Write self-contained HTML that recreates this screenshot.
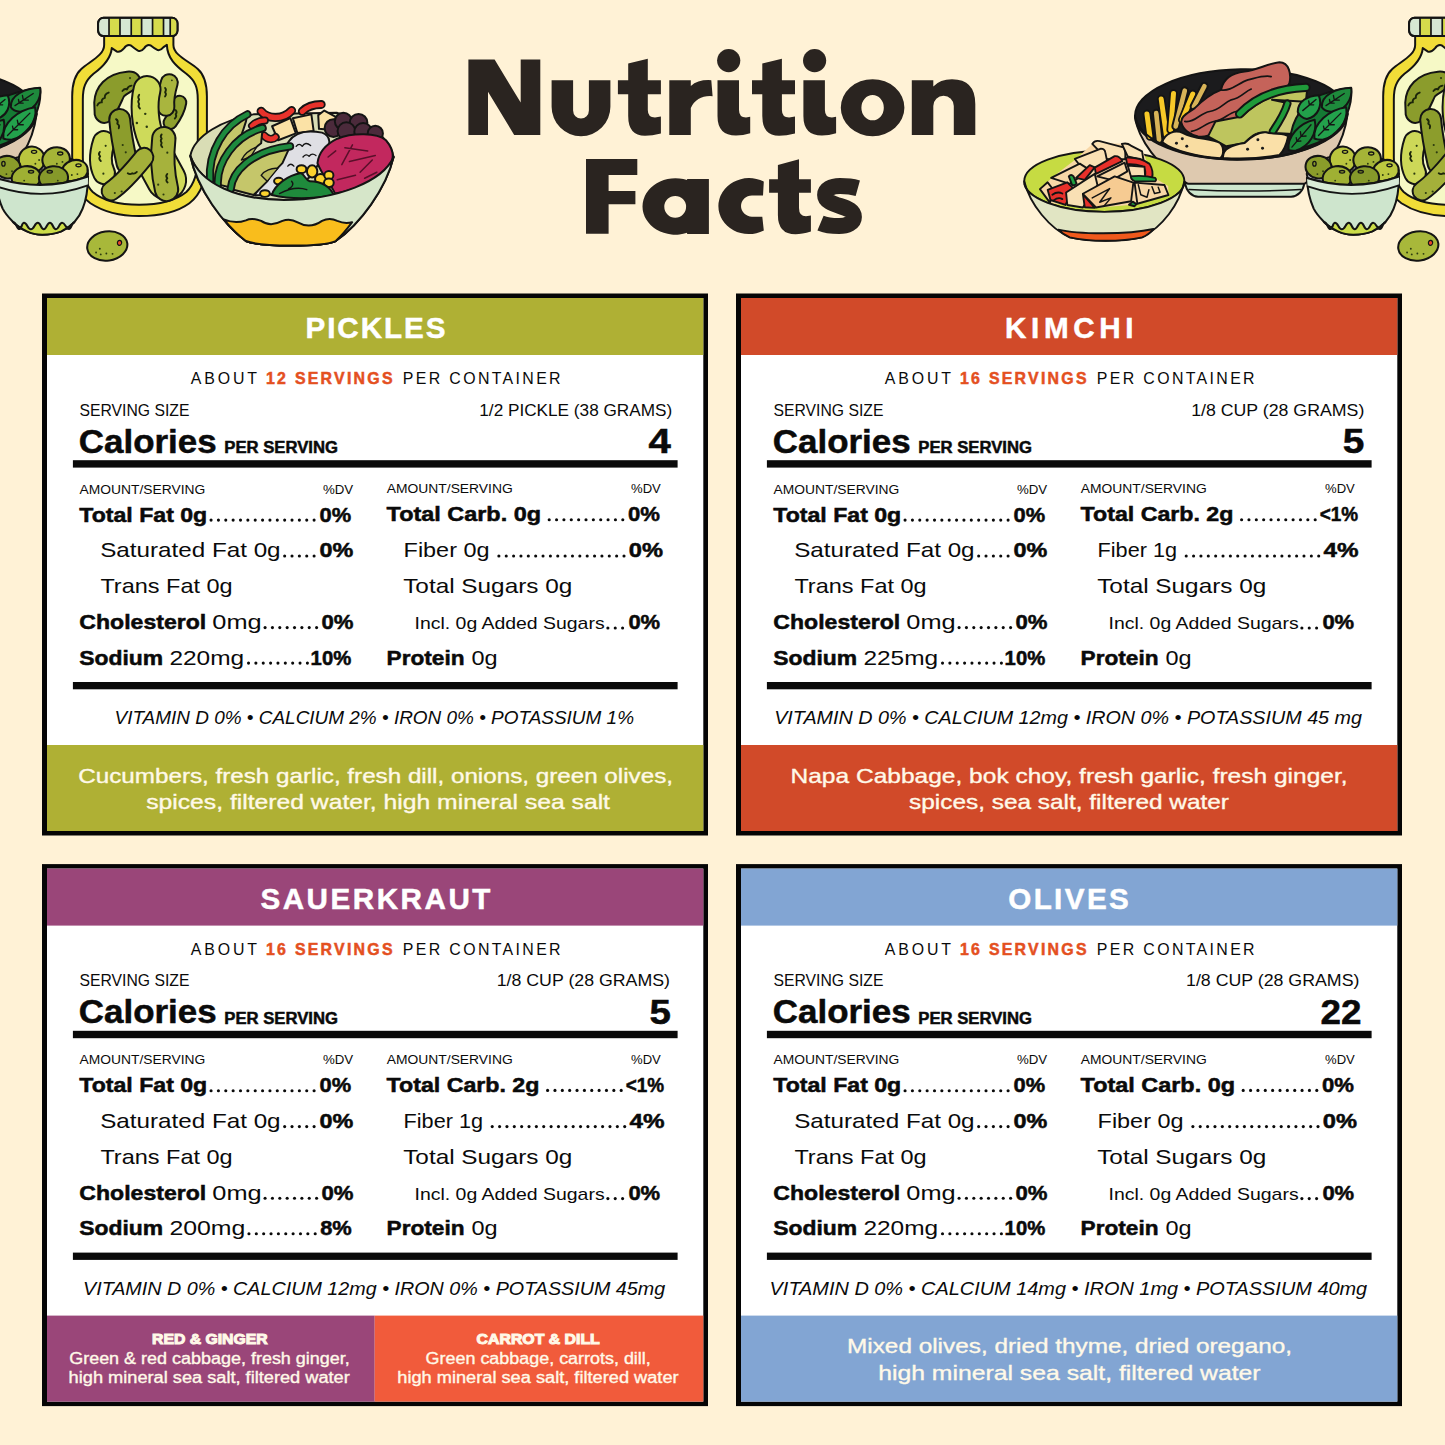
<!DOCTYPE html>
<html lang="en"><head><meta charset="utf-8"><title>Nutrition Facts</title>
<style>
html,body{margin:0;padding:0;background:#FFF2D6;}
body{width:1445px;height:1445px;overflow:hidden;font-family:"Liberation Sans", sans-serif;}
svg{display:block;font-family:"Liberation Sans", sans-serif;}
text{white-space:pre;}
</style></head><body>
<svg width="1445" height="1445" viewBox="0 0 1445 1445">
<rect width="1445" height="1445" fill="#FFF2D6"/>
<!-- illustrations -->
<defs><g id="grpA">
<!-- BLACK BOWL: zoom coords origin (1125,50)-1311 => (-186,50), scale 1/6.021 -->
<g transform="translate(-186,50) scale(0.16609)" stroke="#141414" stroke-width="12" stroke-linejoin="round" stroke-linecap="round">
<!-- foot -->
<path d="M362 800 L1080 800 C1074 850 1040 880 1000 884 L440 884 C400 880 368 850 362 800 Z" fill="#CEE7CE"/>
<path d="M385 840 C600 852 850 852 1058 840" fill="none" stroke-width="9"/>
<!-- body -->
<path d="M62 405 C75 520 200 720 380 806 L1080 806 C1220 720 1320 560 1340 385 Z" fill="#DEC9AF"/>
<!-- inner -->
<ellipse cx="700" cy="388" rx="640" ry="272" fill="#1B1B1D" transform="rotate(-1 700 388)"/>
<!-- fries -->
<g fill="none">
<path d="M150 520 L132 385" stroke-width="52"/><path d="M150 520 L132 385" stroke="#F7C928" stroke-width="30"/>
<path d="M205 540 L188 380" stroke-width="52"/><path d="M205 540 L188 380" stroke="#D8B458" stroke-width="28"/>
<path d="M250 520 L218 295" stroke-width="52"/><path d="M250 520 L218 295" stroke="#F7C928" stroke-width="30"/>
<path d="M275 480 L292 262" stroke-width="52"/><path d="M275 480 L292 262" stroke="#F7C928" stroke-width="30"/>
<path d="M305 460 L360 245" stroke-width="52"/><path d="M305 460 L360 245" stroke="#D8B458" stroke-width="28"/>
<path d="M345 420 L408 265" stroke-width="52"/><path d="M345 420 L408 265" stroke="#F7C928" stroke-width="30"/>
<path d="M415 340 L478 218" stroke-width="52"/><path d="M415 340 L478 218" stroke="#D8B458" stroke-width="28"/>
</g>
<!-- meat -->
<path d="M340 440 C330 400 380 380 420 350 C470 300 520 262 578 240 C590 180 640 140 720 130 C800 120 860 80 930 74 C990 74 1002 150 990 200 C960 262 900 282 860 300 C800 340 700 400 640 440 C580 490 500 530 440 520 C390 510 350 480 340 440 Z" fill="#C5635A"/>
<g fill="none" stroke-width="10"><path d="M578 240 C640 250 680 200 740 180 C800 165 840 150 880 160"/><path d="M360 430 C420 440 450 380 510 370 C570 365 590 320 640 300 C700 290 720 250 760 235"/><path d="M400 490 C460 480 480 440 540 430 C600 420 620 380 670 370"/></g>
<!-- avocado -->
<path d="M500 520 L545 430 L700 400 C780 330 880 262 1000 250 L1096 244 L1090 300 L1062 312 L1040 400 L1010 505 L870 505 C800 480 760 520 720 560 L610 580 Z" fill="#BEC55E"/>
<path d="M885 300 L1062 310 L1040 400 L1010 505 L900 500 C940 440 970 380 985 320 Z" fill="#CDCB78"/>
<g fill="none"><path d="M690 385 C780 290 900 232 1090 225" stroke-width="56"/><path d="M690 385 C780 290 900 232 1090 225" stroke="#1F9A3A" stroke-width="32"/>
<path d="M890 490 C930 430 962 380 978 322" stroke-width="50"/><path d="M890 490 C930 430 962 380 978 322" stroke="#1F9A3A" stroke-width="26"/></g>
<!-- leaves -->
<path d="M1000 590 C980 480 1040 330 1180 270 C1260 240 1340 230 1362 232 C1370 330 1330 460 1200 540 C1120 580 1060 600 1000 590 Z" fill="#157A34"/>
<path d="M1185 345 C1180 270 1270 230 1362 228 C1372 300 1320 372 1240 372 C1215 370 1195 360 1185 345 Z" fill="#1E8A3C"/>
<path d="M1040 372 C1040 310 1100 275 1166 272 C1190 330 1165 400 1095 415 C1070 410 1050 395 1040 372 Z" fill="#22A04A"/>
<path d="M1140 532 C1130 440 1230 360 1332 345 C1345 430 1280 520 1190 540 C1170 540 1150 538 1140 532 Z" fill="#23A24C"/>
<path d="M985 602 C975 520 1050 440 1142 420 C1160 500 1110 580 1030 605 C1010 608 995 606 985 602 Z" fill="#1C8A3A"/>
<g fill="none" stroke-width="8"><path d="M1210 335 L1320 262 M1260 300 l-5 -26 M1262 300 l28 2 M1235 318 l-4 -20 M1237 318 l22 2"/><path d="M1070 365 L1150 298 M1110 330 l-4 -24 M1112 330 l24 0"/><path d="M1165 515 L1300 380 M1230 450 l-6 -28 M1232 450 l28 0 M1200 480 l-5 -22 M1202 480 l24 0"/><path d="M1005 585 L1120 450 M1060 520 l-4 -28 M1062 520 l28 -2 M1035 550 l-4 -22 M1037 550 l22 -2"/></g>
<!-- potatoes -->
<path d="M225 555 C240 500 300 478 350 500 C420 540 520 530 572 560 C602 590 592 640 572 652 C450 642 300 612 225 555 Z" fill="#F9DDA2"/>
<path d="M590 645 C588 590 650 570 720 560 C760 520 800 490 850 495 C900 510 960 500 982 520 C972 570 950 612 930 632 C820 652 700 658 590 650 Z" fill="#FAE0A8"/>
<g stroke="none" fill="#1a1a1a"><circle cx="345" cy="535" r="9"/><circle cx="310" cy="562" r="9"/><circle cx="372" cy="580" r="9"/><circle cx="800" cy="540" r="9"/><circle cx="738" cy="598" r="9"/><circle cx="828" cy="592" r="9"/></g>
<!-- front rim re-stroke -->
<path d="M62 405 C100 560 380 662 700 660 C1020 660 1300 545 1340 385" fill="none"/>
</g>

<!-- JAR: traced in zoom coords (origin 60,5 scale 1/6.569) -->
<g transform="translate(60,5) scale(0.15223)" stroke="#141414" stroke-width="13" stroke-linejoin="round" stroke-linecap="round">
<path d="M290 200 L290 262 C290 330 200 368 140 420 C92 462 80 520 80 600 L80 1000 C80 1150 125 1250 200 1302 C300 1368 420 1386 520 1386 C640 1386 760 1368 850 1302 C925 1245 965 1150 965 1000 L965 600 C965 520 953 462 905 420 C845 368 745 330 745 262 L745 200 Z" fill="#F1DD38"/>
<path d="M340 283 L372 305 Q398 312 420 285 Q440 256 466 266 Q490 286 512 300 Q532 310 552 285 Q572 256 596 266 Q620 286 642 296 Q662 300 680 277 L702 262 C705 350 760 400 830 452 C890 500 905 540 905 620 L905 1000 C905 1100 880 1180 830 1228 C750 1292 640 1312 520 1312 C400 1312 290 1292 215 1228 C165 1180 150 1100 150 1000 L150 620 C150 540 165 500 220 452 C290 400 335 350 340 283 Z" fill="#F6F9C6"/>
<!-- lid -->
<rect x="250" y="84" width="522" height="120" rx="36" fill="#D6E7D2"/>
<g stroke="none" fill="#D6DB4C"><rect x="322" y="88" width="72" height="112"/><rect x="468" y="88" width="68" height="112"/><rect x="608" y="88" width="72" height="112"/><path d="M724 88 H746 Q766 94 766 122 V166 Q766 194 746 200 H724 Z"/></g>
<g fill="none" stroke-width="11"><path d="M322 86V202M394 86V202M468 86V202M536 86V202M608 86V202M680 86V202M724 86V202"/></g>
<rect x="250" y="84" width="522" height="120" rx="36" fill="none"/>
<!-- pickles: black underlay then colour -->
<g fill="none">
<path d="M640 1040 L700 1150" stroke-width="270"/><path d="M640 1040 L700 1150" stroke="#CFDA5A" stroke-width="244"/>
<path d="M288 900 C262 980 262 1050 290 1105" stroke-width="156"/><path d="M288 900 C262 980 262 1050 290 1105" stroke="#CDD858" stroke-width="130"/>
<path d="M225 640 C230 540 300 450 440 438 C500 432 540 470 520 520 C500 560 450 570 420 600 C400 640 380 700 330 760 C290 790 240 770 228 720 Z" fill="#8B9C2C"/>
<path d="M786 640 C776 700 746 742 724 772" stroke-width="100"/><path d="M786 640 C776 700 746 742 724 772" stroke="#8FA02E" stroke-width="74"/>
<path d="M718 510 C700 572 690 622 696 672" stroke-width="124"/><path d="M718 510 C700 572 690 622 696 672" stroke="#A9B53E" stroke-width="98"/>
<path d="M572 555 C548 650 556 780 600 885" stroke-width="190"/><path d="M572 555 C548 650 556 780 600 885" stroke="#CEDA5A" stroke-width="164"/>
<path d="M392 752 C400 850 420 950 440 1040" stroke-width="150"/><path d="M392 752 C400 850 420 950 440 1040" stroke="#8C9D2C" stroke-width="124"/>
<path d="M682 878 C668 1000 678 1120 700 1212" stroke-width="166"/><path d="M682 878 C668 1000 678 1120 700 1212" stroke="#A6B23C" stroke-width="140"/>
<path d="M552 1000 C480 1090 410 1170 335 1222" stroke-width="136"/><path d="M552 1000 C480 1090 410 1170 335 1222" stroke="#A4B03A" stroke-width="110"/>
</g>
<!-- squiggles + dots -->
<g fill="none" stroke-width="12" stroke="#1c260a">
<path d="M245 660 q10 -25 30 -20 q-5 -25 20 -30 q-5 -25 25 -35"/>
<path d="M410 565 q15 -20 30 -10 q5 -22 30 -25"/>
<path d="M520 590 q-12 15 0 30 q-12 15 0 30 q-10 15 5 30"/>
<path d="M690 545 q12 12 0 28 q12 12 0 28"/>
<path d="M368 750 q18 10 8 30 q18 8 10 30"/>
<path d="M760 690 q12 12 0 28 q10 12 -6 28"/>
<path d="M262 965 q-14 14 2 30 q-14 14 4 30"/>
<path d="M668 850 q-12 14 0 28 q-12 14 0 28 q-10 14 4 28"/>
<path d="M445 1105 q15 12 30 0 q15 8 30 -8"/>
<path d="M705 1110 q-14 14 0 28 q-14 14 2 28"/>
</g>
<g stroke="none" fill="#2b3a10"><circle cx="505" cy="775" r="8"/><circle cx="570" cy="800" r="8"/><circle cx="560" cy="715" r="8"/><circle cx="300" cy="925" r="7"/><circle cx="285" cy="1108" r="7"/><circle cx="432" cy="968" r="7"/><circle cx="412" cy="920" r="7"/><circle cx="360" cy="1235" r="7"/><circle cx="405" cy="1225" r="7"/><circle cx="645" cy="1180" r="7"/><circle cx="680" cy="1245" r="7"/><circle cx="705" cy="970" r="7"/><circle cx="460" cy="480" r="7"/><circle cx="735" cy="495" r="6"/></g>
</g>

<!-- OLIVE BOWL + single olive: zoom coords origin (1295,5)-1311 => (-16,5), scale 1/5.353 -->
<g transform="translate(-16,5) scale(0.18681)" stroke="#141414" stroke-width="11" stroke-linejoin="round" stroke-linecap="round">
<ellipse cx="310" cy="905" rx="247" ry="105" fill="#C9CAD8"/>
<g>
<ellipse cx="256" cy="828" rx="70" ry="70" fill="#BAC53E" transform="rotate(-10 256 828)"/>
<ellipse cx="386" cy="826" rx="74" ry="64" fill="#A5B437" transform="rotate(-12 386 826)"/>
<ellipse cx="126" cy="868" rx="70" ry="60" fill="#8A9C2A" transform="rotate(10 126 868)"/>
<ellipse cx="486" cy="888" rx="70" ry="58" fill="#BCC840" transform="rotate(-15 486 888)"/>
<ellipse cx="226" cy="925" rx="78" ry="62" fill="#9FB033" transform="rotate(-8 226 925)"/>
<ellipse cx="372" cy="925" rx="78" ry="62" fill="#86992A" transform="rotate(-5 372 925)"/>
</g>
<g stroke-width="7" fill="none"><ellipse cx="268" cy="786" rx="14" ry="8"/><ellipse cx="408" cy="795" rx="14" ry="8"/><ellipse cx="104" cy="850" rx="9" ry="13"/><ellipse cx="506" cy="858" rx="14" ry="8"/><ellipse cx="252" cy="893" rx="14" ry="7"/><ellipse cx="352" cy="893" rx="14" ry="7"/></g>
<g stroke="none" fill="#2b3a10"><circle cx="120" cy="905" r="5"/><circle cx="150" cy="890" r="5"/><circle cx="275" cy="850" r="5"/><circle cx="295" cy="830" r="5"/><circle cx="390" cy="850" r="5"/><circle cx="420" cy="840" r="5"/><circle cx="470" cy="910" r="5"/><circle cx="500" cy="905" r="5"/><circle cx="215" cy="940" r="5"/><circle cx="395" cy="940" r="5"/></g>
<path d="M64 926 Q312 1004 557 918 C556 990 545 1050 528 1090 C515 1125 500 1145 483 1163 C460 1188 440 1200 414 1212 C380 1225 345 1230 312 1230 C280 1230 255 1224 230 1212 C200 1198 178 1185 157 1163 C135 1140 115 1120 100 1090 C80 1045 66 990 64 926 Z" fill="#CEE5CD"/>
<path d="M64 926 Q312 1004 557 918 L556 966 Q312 1054 68 971 Z" fill="#D9EBD6" stroke="none"/>
<path d="M68 971 Q312 1054 556 966" fill="none" stroke-width="10"/>
<path d="M64 926 Q312 1004 557 918" fill="none"/>
<path d="M157 1163 C174 1163 174 1199 190 1199 C202 1199 202 1166 214 1166 C232 1166 232 1200 251 1200 C270 1200 270 1166 288 1166 C304 1166 304 1200 320 1200 C336 1200 336 1166 353 1166 C369 1166 369 1200 385 1200 C402 1200 402 1166 418 1166 C436 1166 436 1199 455 1199 C469 1199 469 1163 483 1163 C460 1188 440 1200 414 1212 C380 1225 345 1230 312 1230 C280 1230 255 1224 230 1212 C200 1198 178 1185 157 1163 Z" fill="#CBDC48"/>
<!-- single olive -->
<ellipse cx="660" cy="1290" rx="108" ry="78" fill="#A8B83A" transform="rotate(-8 660 1290)"/>
<path d="M714 1270 q4 -12 14 -10 q12 4 8 18 q-6 12 -16 8 q-8 -6 -6 -16 Z" fill="#E8452A" stroke-width="6"/>
<g stroke="none" fill="#2b3a10"><circle cx="600" cy="1325" r="5"/><circle cx="625" cy="1335" r="5"/><circle cx="655" cy="1330" r="5"/><circle cx="688" cy="1332" r="5"/><circle cx="620" cy="1305" r="5"/></g>
</g>

</g></defs>
<use href="#grpA"/>
<use href="#grpA" transform="translate(1311,0)"/>
<!-- SALAD BOWL: zoom coords origin (185,90), scale 1/6.568 -->
<g transform="translate(185,90) scale(0.15225)" stroke="#141414" stroke-width="13" stroke-linejoin="round" stroke-linecap="round">
<!-- body -->
<path d="M35 435 C80 650 250 880 400 992 C500 1032 900 1032 990 992 C1150 880 1320 650 1370 440 Z" fill="#D6E6C9"/>
<path d="M255 850 Q330 882 400 856 Q440 836 500 860 Q560 902 640 860 Q690 840 740 870 Q820 916 900 860 Q950 836 1000 860 Q1050 882 1098 868 C1060 920 1020 965 990 992 C900 1032 500 1032 400 992 C350 955 300 905 255 850 Z" fill="#F9BD1C"/>
<!-- interior -->
<path d="M35 432 C60 300 250 195 450 160 L1000 150 C1200 200 1350 320 1370 440 C1300 600 1000 722 650 722 C350 722 100 620 35 432 Z" fill="#D9DDB5"/>
<!-- red peppers back -->
<g fill="none"><path d="M500 140 C540 190 640 200 700 135" stroke-width="60"/><path d="M500 140 C540 190 640 200 700 135" stroke="#E8322B" stroke-width="36"/>
<path d="M770 140 C800 110 850 95 895 95" stroke-width="58"/><path d="M770 140 C800 110 850 95 895 95" stroke="#E8322B" stroke-width="34"/>
<path d="M440 235 C470 205 500 200 525 200" stroke-width="52"/><path d="M440 235 C470 205 500 200 525 200" stroke="#E8322B" stroke-width="30"/></g>
<!-- tofu -->
<path d="M572 238 L692 185 L728 285 L612 330 Z" fill="#FBE2A6"/>
<path d="M708 185 L830 160 L845 270 L738 282 Z" fill="#FBE2A6"/>
<path d="M875 165 L915 135 L1005 185 L965 262 L880 255 Z" fill="#FBE2A6"/>
<path d="M520 300 C545 330 580 325 595 310" fill="none" stroke-width="54"/><path d="M520 300 C545 330 580 325 595 310" fill="none" stroke="#E8322B" stroke-width="32"/>
<!-- dark beans -->
<g fill="#4B2A3B"><circle cx="975" cy="250" r="58"/><circle cx="1040" cy="205" r="56"/><circle cx="1140" cy="215" r="58"/><circle cx="1060" cy="270" r="58"/><circle cx="1170" cy="275" r="58"/><circle cx="1250" cy="285" r="50"/></g>
<!-- white sauce -->
<path d="M455 690 C520 600 560 560 600 520 C640 470 640 400 680 340 C720 280 800 260 900 280 C960 300 960 360 920 420 C880 470 860 520 830 560 C760 640 600 700 455 690 Z" fill="#DFDFE4"/>
<g fill="none" stroke-width="9"><path d="M730 370 q20 -25 40 0 q20 -35 55 -5"/><path d="M775 440 q20 -25 40 -5 q20 -25 45 -5"/><path d="M675 500 q20 -25 40 0"/></g>
<!-- magenta cabbage -->
<path d="M870 480 C880 400 940 350 1000 320 C1100 280 1260 280 1320 330 C1380 400 1380 470 1320 540 C1260 600 1100 660 985 680 C960 620 900 560 870 480 Z" fill="#C2285E"/>
<g fill="none" stroke-width="10" stroke="#5a0f2a"><path d="M1030 490 L1100 360 M1050 380 L1200 400 M1080 470 L1250 430 M1150 540 L1230 460 M1000 590 L1120 560 M940 440 L990 400 M1180 580 L1260 540"/></g>
<!-- corn -->
<g fill="#FBD22E"><ellipse cx="765" cy="520" rx="32" ry="26"/><ellipse cx="835" cy="535" rx="34" ry="40"/><ellipse cx="890" cy="585" rx="36" ry="34"/><ellipse cx="945" cy="560" rx="30" ry="28"/><ellipse cx="945" cy="610" rx="32" ry="28"/><ellipse cx="615" cy="598" rx="30" ry="22"/><ellipse cx="525" cy="680" rx="32" ry="22"/></g>
<!-- lettuce -->
<path d="M570 690 C590 620 680 560 760 545 C790 560 790 590 820 600 C900 600 960 640 975 690 C850 715 700 720 570 690 Z" fill="#1F8A3C"/>
<path d="M620 680 C700 640 760 640 800 655 M700 600 C720 620 700 640 680 650" fill="none" stroke-width="9"/>
<!-- avocado slices -->
<path d="M165 595 C150 400 260 230 410 160 C400 230 380 260 370 300 C300 400 240 500 215 610 Z" fill="#C5C66A"/>
<path d="M165 595 C150 400 260 230 410 160" fill="none" stroke-width="54"/><path d="M165 595 C150 400 260 230 410 160" fill="none" stroke="#1E8A3E" stroke-width="30"/>
<path d="M215 620 C210 480 320 300 510 250 L500 350 C470 370 440 400 430 440 C380 500 330 560 300 640 Z" fill="#C5C66A"/>
<path d="M215 620 C210 480 320 300 510 250" fill="none" stroke-width="54"/><path d="M215 620 C210 480 320 300 510 250" fill="none" stroke="#1E8A3E" stroke-width="30"/>
<path d="M370 460 C390 420 430 390 470 375 L430 440 Z" fill="#B9BA5C" stroke-width="9"/>
<path d="M300 650 C310 540 430 400 690 370 L640 480 C600 520 560 560 540 600 L450 690 Z" fill="#C5C66A"/>
<path d="M300 650 C310 540 430 400 690 370" fill="none" stroke-width="54"/><path d="M300 650 C310 540 430 400 690 370" fill="none" stroke="#1E8A3E" stroke-width="30"/>
<path d="M500 560 C520 530 570 510 610 515 L540 600 Z" fill="#B9BA5C" stroke-width="9"/>
<!-- front rim + body redraw to cover food overflow -->
<path d="M35 432 C100 620 350 722 650 722 C1000 722 1300 600 1370 440 C1320 650 1150 880 990 992 C900 1032 500 1032 400 992 C250 880 80 650 35 432 Z" fill="#D6E6C9"/>
<path d="M255 850 Q330 882 400 856 Q440 836 500 860 Q560 902 640 860 Q690 840 740 870 Q820 916 900 860 Q950 836 1000 860 Q1050 882 1098 868 C1060 920 1020 965 990 992 C900 1032 500 1032 400 992 C350 955 300 905 255 850 Z" fill="#F9BD1C"/>
</g>

<!-- KIMCHI BOWL: zoom coords origin (1015,130), scale 1/8.028 -->
<g transform="translate(1015,130) scale(0.12456)" stroke="#141414" stroke-width="15" stroke-linejoin="round" stroke-linecap="round">
<ellipse cx="717" cy="412" rx="643" ry="245" fill="#C6DB42"/>
<!-- food -->
<path d="M205 472 L300 380 L480 240 L630 105 L880 110 L1030 180 L1110 380 L1230 450 L1232 522 L982 596 L650 626 L420 606 L282 586 Z" fill="#F8D7A6" stroke="none"/>
<path d="M620 112 Q640 80 680 90 L870 140 Q890 160 885 235 L740 235 Z" fill="#F9E0B4"/>
<path d="M858 112 Q900 100 930 125 L1020 172 L1032 245 L905 212 Z" fill="#F9E0B4"/>
<path d="M480 232 L690 150 Q720 150 725 180 L742 262 L560 335 Z" fill="#F9E0B4"/>
<path d="M200 475 L262 420 L300 470 L282 585 Z" fill="#F8D7A6"/>
<path d="M290 385 L520 270 L602 322 L440 432 Z" fill="#F8D7A6"/>
<path d="M262 480 L420 420 L470 470 L405 602 L285 562 Z" fill="#E8302A"/>
<path d="M300 520 q40 -30 80 -10 M310 565 q40 -30 70 -10" fill="none"/>
<path d="M490 385 L600 282 L640 300 L560 400 Z" fill="#E8302A"/>
<path d="M640 302 L800 210 Q840 205 862 250 L650 352 Z" fill="#E8302A"/>
<path d="M890 222 Q1000 215 1080 272 Q1115 330 1100 385 L1040 385 Q1060 320 1020 290 Q960 270 900 275 Z" fill="#E8302A"/>
<path d="M905 285 L1040 295 L1045 380 L930 372 Z" fill="#F9E0B4"/>
<path d="M660 372 L880 262 L902 332 L780 402 Z" fill="#F8D7A6"/>
<path d="M410 502 L640 352 L662 442 L545 622 L420 602 Z" fill="#F9E0B4"/>
<path d="M545 515 L560 620 L640 625 Z" fill="#E8302A"/>
<path d="M432 372 Q450 350 470 372 L495 430 Q480 450 458 440 Z" fill="#1FA040"/>
<path d="M960 422 L1200 442 L1232 522 L982 592 Z" fill="#F8D7A6"/>
<path d="M545 512 L800 372 L950 422 L932 572 L650 622 Z" fill="#F6CB92"/>
<path d="M930 372 Q1030 360 1125 385 Q1140 400 1125 412 L960 410 Q930 400 930 372 Z" fill="#1FA040"/>
<path d="M915 600 L945 575 L975 595 L960 612 Z" fill="#1FA040"/>
<g fill="none" stroke-width="12"><path d="M620 545 L760 470 L680 580 L770 545 L715 610"/><path d="M990 440 L1010 520 L1060 540 L1075 480"/><path d="M1100 455 L1120 510 L1165 500 L1150 460"/></g>
<!-- body over food -->
<path d="M74 412 A643 245 0 0 0 1360 412 C1320 600 1180 780 1020 862 C860 900 600 900 440 862 C280 790 120 600 74 412 Z" fill="#E1E5C3"/>
<path d="M348 800 C500 838 900 842 1112 795 C1082 830 1050 850 1020 862 C850 898 600 898 440 862 C410 850 378 830 348 800 Z" fill="#F0591C"/>
</g>


<!-- title -->
<g fill="#2A2420" stroke="none" aria-label="Nutrition Facts">
<!-- N -->
<path d="M468.4 134.9V59.6H494.6L520.7 102.6V59.6H540.3V134.9H514.2L488 91.8V134.9Z"/>
<!-- u -->
<path d="M551.6 80.2H573.1V110.6A7.9 7.9 0 0 0 588.9 110.6V80.2H610.4V106.8A29.4 29.4 0 0 1 551.6 106.8Z"/>
<!-- t -->
<path id="gt" d="M628.2 63.4L647.8 58.7V80.2H660.9V94.2H647.8V110Q647.8 117.5 655 117.5L660.9 116.6V133.5Q652 135.8 645 135.8Q628.2 135.8 628.2 116V94.2H617.9V80.2H628.2Z"/>
<!-- r -->
<path d="M669.3 80.2H690.8V86Q698 79.4 711.3 80.2L712.6 96.2Q697 95 690.8 108V134.9H669.3Z"/>
<!-- i -->
<g id="gi"><path d="M717.5 80.2H739V110Q739 117.5 746 117.5L750.2 116.8V133.2Q743 135.6 736 135.6Q717.5 135.6 717.5 116Z"/><circle cx="728.7" cy="60.6" r="11.6"/></g>
<use href="#gt" x="134.1"/>
<use href="#gi" x="85.9"/>
<!-- o -->
<path fill-rule="evenodd" d="M840.8 107.7A31.8 28.5 0 1 0 904.4 107.7A31.8 28.5 0 1 0 840.8 107.7ZM861.4 107.7A11.2 12.6 0 1 0 883.8 107.7A11.2 12.6 0 1 0 861.4 107.7Z"/>
<!-- n -->
<path d="M911.8 80.2H933.3V86.5Q940 79.2 952 79.2Q975.3 79.2 975.3 104V134.9H953.8V106A10.25 10.25 0 0 0 933.3 106V134.9H911.8Z"/>
<!-- F -->
<path d="M586 159H637.3V174.9H608.6V191.1H635.4V204.2H608.6V233.7H586Z"/>
<!-- a -->
<path fill-rule="evenodd" d="M642.5 206.45A32.9 28.25 0 0 0 687.1 232.8V233.9H708.9V179H687.1V180.1A32.9 28.25 0 0 0 642.5 206.45ZM664.3 206.8A10.9 10.9 0 1 0 686.1 206.8A10.9 10.9 0 1 0 664.3 206.8Z"/>
<!-- c -->
<path d="M763.8 181.6A30.6 28 0 1 0 763.8 230.6L762.3 216.7H752A11 10.6 0 0 1 752 195.5H763Z"/>
<!-- t -->
<path d="M777.9 164.9L799 159.2V179.3H810.9V192.7H799V208Q799 216.3 806 216.3L810.9 215.6V231.6Q802 234.3 795.5 234.3Q777.9 234.3 777.9 215V192.7H769.1V179.3H777.9Z"/>
<!-- s -->
<path fill="none" stroke="#2A2420" stroke-width="16" d="M857.8 188.2C851 186.3 846 186.1 840 186.1C831 186.1 825.1 189.5 825.1 195C825.1 201 832 203.5 840 206C848 208.5 853.9 211 853.9 217C853.9 223 847 226.1 839 226.1C832 226.1 826 225.5 820.5 223.2"/>
</g>

<!-- panels -->
<g transform="translate(0,0)">
<rect x="42.0" y="293.5" width="666.0" height="542.0" fill="#050505"/>
<rect x="47.0" y="298.0" width="656.3" height="533.0" fill="#ffffff"/>
<rect x="47.0" y="298.0" width="656.3" height="57.0" fill="#AFB034"/>
<rect x="47.0" y="745.0" width="656.3" height="86.0" fill="#AFB034"/>
<text x="305.5" y="338.0" font-size="29.6" font-weight="bold" font-style="normal" fill="#ffffff" textLength="139.9" lengthAdjust="spacing" stroke="#ffffff" stroke-width="0.5">PICKLES</text>
<text x="190.7" y="384.3" font-size="15.9" font-weight="normal" font-style="normal" fill="#0a0a0a" textLength="66.3" lengthAdjust="spacing">ABOUT</text>
<text x="266.0" y="384.3" font-size="15.9" font-weight="bold" font-style="normal" fill="#E4501F" textLength="126.6" lengthAdjust="spacing" stroke="#E4501F" stroke-width="0.5">12 SERVINGS</text>
<text x="402.8" y="384.3" font-size="15.9" font-weight="normal" font-style="normal" fill="#0a0a0a" textLength="157.8" lengthAdjust="spacing">PER CONTAINER</text>
<text x="79.5" y="415.9" font-size="16.2" font-weight="normal" font-style="normal" fill="#0a0a0a" textLength="109.9" lengthAdjust="spacingAndGlyphs">SERVING SIZE</text>
<text x="479.3" y="415.9" font-size="16.2" font-weight="normal" font-style="normal" fill="#0a0a0a" textLength="192.9" lengthAdjust="spacingAndGlyphs">1/2 PICKLE (38 GRAMS)</text>
<text x="78.8" y="452.7" font-size="32.4" font-weight="bold" font-style="normal" fill="#0a0a0a" textLength="137.8" lengthAdjust="spacingAndGlyphs" stroke="#0a0a0a" stroke-width="0.5">Calories</text>
<text x="224.3" y="453.0" font-size="17.4" font-weight="bold" font-style="normal" fill="#0a0a0a" textLength="113.7" lengthAdjust="spacingAndGlyphs" stroke="#0a0a0a" stroke-width="0.5">PER SERVING</text>
<text x="648.6" y="453.0" font-size="34.4" font-weight="bold" font-style="normal" fill="#0a0a0a" textLength="22.4" lengthAdjust="spacingAndGlyphs" stroke="#0a0a0a" stroke-width="0.5">4</text>
<rect x="72.9" y="460.2" width="604.7" height="7.4" fill="#0a0a0a"/>
<text x="79.6" y="493.5" font-size="13.7" font-weight="normal" font-style="normal" fill="#0a0a0a" textLength="125.7" lengthAdjust="spacingAndGlyphs">AMOUNT/SERVING</text>
<text x="323.0" y="493.5" font-size="13.7" font-weight="normal" font-style="normal" fill="#0a0a0a" textLength="30.2" lengthAdjust="spacingAndGlyphs">%DV</text>
<text x="386.8" y="493.3" font-size="13.7" font-weight="normal" font-style="normal" fill="#0a0a0a" textLength="125.9" lengthAdjust="spacingAndGlyphs">AMOUNT/SERVING</text>
<text x="631.0" y="493.3" font-size="13.7" font-weight="normal" font-style="normal" fill="#0a0a0a" textLength="29.8" lengthAdjust="spacingAndGlyphs">%DV</text>
<text x="79.3" y="521.5" font-size="20.4" font-weight="bold" font-style="normal" fill="#0a0a0a" textLength="127.9" lengthAdjust="spacingAndGlyphs" stroke="#0a0a0a" stroke-width="0.5">Total Fat 0g</text>
<circle cx="314.10" cy="520.1" r="1.55" fill="#0a0a0a"/>
<circle cx="306.74" cy="520.1" r="1.55" fill="#0a0a0a"/>
<circle cx="299.38" cy="520.1" r="1.55" fill="#0a0a0a"/>
<circle cx="292.02" cy="520.1" r="1.55" fill="#0a0a0a"/>
<circle cx="284.66" cy="520.1" r="1.55" fill="#0a0a0a"/>
<circle cx="277.30" cy="520.1" r="1.55" fill="#0a0a0a"/>
<circle cx="269.94" cy="520.1" r="1.55" fill="#0a0a0a"/>
<circle cx="262.58" cy="520.1" r="1.55" fill="#0a0a0a"/>
<circle cx="255.22" cy="520.1" r="1.55" fill="#0a0a0a"/>
<circle cx="247.86" cy="520.1" r="1.55" fill="#0a0a0a"/>
<circle cx="240.50" cy="520.1" r="1.55" fill="#0a0a0a"/>
<circle cx="233.14" cy="520.1" r="1.55" fill="#0a0a0a"/>
<circle cx="225.78" cy="520.1" r="1.55" fill="#0a0a0a"/>
<circle cx="218.42" cy="520.1" r="1.55" fill="#0a0a0a"/>
<circle cx="211.06" cy="520.1" r="1.55" fill="#0a0a0a"/>
<text x="319.6" y="521.5" font-size="20.4" font-weight="bold" font-style="normal" fill="#0a0a0a" textLength="31.6" lengthAdjust="spacingAndGlyphs" stroke="#0a0a0a" stroke-width="0.5">0%</text>
<text x="100.2" y="557.4" font-size="20.4" font-weight="normal" font-style="normal" fill="#0a0a0a" textLength="180.4" lengthAdjust="spacingAndGlyphs">Saturated Fat 0g</text>
<circle cx="314.10" cy="556.0" r="1.55" fill="#0a0a0a"/>
<circle cx="306.74" cy="556.0" r="1.55" fill="#0a0a0a"/>
<circle cx="299.38" cy="556.0" r="1.55" fill="#0a0a0a"/>
<circle cx="292.02" cy="556.0" r="1.55" fill="#0a0a0a"/>
<circle cx="284.66" cy="556.0" r="1.55" fill="#0a0a0a"/>
<text x="319.6" y="557.4" font-size="20.4" font-weight="bold" font-style="normal" fill="#0a0a0a" textLength="33.8" lengthAdjust="spacingAndGlyphs" stroke="#0a0a0a" stroke-width="0.5">0%</text>
<text x="100.4" y="593.4" font-size="20.4" font-weight="normal" font-style="normal" fill="#0a0a0a" textLength="132.2" lengthAdjust="spacingAndGlyphs">Trans Fat 0g</text>
<text x="79.3" y="629.0" font-size="20.4" font-weight="bold" font-style="normal" fill="#0a0a0a" textLength="126.9" lengthAdjust="spacingAndGlyphs" stroke="#0a0a0a" stroke-width="0.5">Cholesterol</text>
<text x="212.3" y="629.0" font-size="20.4" font-weight="normal" font-style="normal" fill="#0a0a0a" textLength="49.3" lengthAdjust="spacingAndGlyphs">0mg</text>
<circle cx="316.60" cy="627.6" r="1.55" fill="#0a0a0a"/>
<circle cx="309.24" cy="627.6" r="1.55" fill="#0a0a0a"/>
<circle cx="301.88" cy="627.6" r="1.55" fill="#0a0a0a"/>
<circle cx="294.52" cy="627.6" r="1.55" fill="#0a0a0a"/>
<circle cx="287.16" cy="627.6" r="1.55" fill="#0a0a0a"/>
<circle cx="279.80" cy="627.6" r="1.55" fill="#0a0a0a"/>
<circle cx="272.44" cy="627.6" r="1.55" fill="#0a0a0a"/>
<circle cx="265.08" cy="627.6" r="1.55" fill="#0a0a0a"/>
<text x="321.4" y="629.0" font-size="20.4" font-weight="bold" font-style="normal" fill="#0a0a0a" textLength="32.0" lengthAdjust="spacingAndGlyphs" stroke="#0a0a0a" stroke-width="0.5">0%</text>
<text x="79.3" y="664.5" font-size="20.4" font-weight="bold" font-style="normal" fill="#0a0a0a" textLength="83.9" lengthAdjust="spacingAndGlyphs" stroke="#0a0a0a" stroke-width="0.5">Sodium</text>
<text x="169.4" y="664.5" font-size="20.4" font-weight="normal" font-style="normal" fill="#0a0a0a" textLength="74.8" lengthAdjust="spacingAndGlyphs">220mg</text>
<circle cx="307.40" cy="663.1" r="1.55" fill="#0a0a0a"/>
<circle cx="300.04" cy="663.1" r="1.55" fill="#0a0a0a"/>
<circle cx="292.68" cy="663.1" r="1.55" fill="#0a0a0a"/>
<circle cx="285.32" cy="663.1" r="1.55" fill="#0a0a0a"/>
<circle cx="277.96" cy="663.1" r="1.55" fill="#0a0a0a"/>
<circle cx="270.60" cy="663.1" r="1.55" fill="#0a0a0a"/>
<circle cx="263.24" cy="663.1" r="1.55" fill="#0a0a0a"/>
<circle cx="255.88" cy="663.1" r="1.55" fill="#0a0a0a"/>
<circle cx="248.52" cy="663.1" r="1.55" fill="#0a0a0a"/>
<text x="310.6" y="664.5" font-size="20.4" font-weight="bold" font-style="normal" fill="#0a0a0a" textLength="40.6" lengthAdjust="spacingAndGlyphs" stroke="#0a0a0a" stroke-width="0.5">10%</text>
<text x="386.6" y="521.2" font-size="20.4" font-weight="bold" font-style="normal" fill="#0a0a0a" textLength="154.4" lengthAdjust="spacingAndGlyphs" stroke="#0a0a0a" stroke-width="0.5">Total Carb. 0g</text>
<circle cx="622.80" cy="519.8" r="1.55" fill="#0a0a0a"/>
<circle cx="615.44" cy="519.8" r="1.55" fill="#0a0a0a"/>
<circle cx="608.08" cy="519.8" r="1.55" fill="#0a0a0a"/>
<circle cx="600.72" cy="519.8" r="1.55" fill="#0a0a0a"/>
<circle cx="593.36" cy="519.8" r="1.55" fill="#0a0a0a"/>
<circle cx="586.00" cy="519.8" r="1.55" fill="#0a0a0a"/>
<circle cx="578.64" cy="519.8" r="1.55" fill="#0a0a0a"/>
<circle cx="571.28" cy="519.8" r="1.55" fill="#0a0a0a"/>
<circle cx="563.92" cy="519.8" r="1.55" fill="#0a0a0a"/>
<circle cx="556.56" cy="519.8" r="1.55" fill="#0a0a0a"/>
<circle cx="549.20" cy="519.8" r="1.55" fill="#0a0a0a"/>
<text x="628.0" y="521.2" font-size="20.4" font-weight="bold" font-style="normal" fill="#0a0a0a" textLength="32.0" lengthAdjust="spacingAndGlyphs" stroke="#0a0a0a" stroke-width="0.5">0%</text>
<text x="403.6" y="557.4" font-size="20.4" font-weight="normal" font-style="normal" fill="#0a0a0a" textLength="85.9" lengthAdjust="spacingAndGlyphs">Fiber 0g</text>
<circle cx="624.00" cy="556.0" r="1.55" fill="#0a0a0a"/>
<circle cx="616.64" cy="556.0" r="1.55" fill="#0a0a0a"/>
<circle cx="609.28" cy="556.0" r="1.55" fill="#0a0a0a"/>
<circle cx="601.92" cy="556.0" r="1.55" fill="#0a0a0a"/>
<circle cx="594.56" cy="556.0" r="1.55" fill="#0a0a0a"/>
<circle cx="587.20" cy="556.0" r="1.55" fill="#0a0a0a"/>
<circle cx="579.84" cy="556.0" r="1.55" fill="#0a0a0a"/>
<circle cx="572.48" cy="556.0" r="1.55" fill="#0a0a0a"/>
<circle cx="565.12" cy="556.0" r="1.55" fill="#0a0a0a"/>
<circle cx="557.76" cy="556.0" r="1.55" fill="#0a0a0a"/>
<circle cx="550.40" cy="556.0" r="1.55" fill="#0a0a0a"/>
<circle cx="543.04" cy="556.0" r="1.55" fill="#0a0a0a"/>
<circle cx="535.68" cy="556.0" r="1.55" fill="#0a0a0a"/>
<circle cx="528.32" cy="556.0" r="1.55" fill="#0a0a0a"/>
<circle cx="520.96" cy="556.0" r="1.55" fill="#0a0a0a"/>
<circle cx="513.60" cy="556.0" r="1.55" fill="#0a0a0a"/>
<circle cx="506.24" cy="556.0" r="1.55" fill="#0a0a0a"/>
<circle cx="498.88" cy="556.0" r="1.55" fill="#0a0a0a"/>
<text x="628.8" y="557.4" font-size="20.4" font-weight="bold" font-style="normal" fill="#0a0a0a" textLength="34.2" lengthAdjust="spacingAndGlyphs" stroke="#0a0a0a" stroke-width="0.5">0%</text>
<text x="403.2" y="593.0" font-size="20.4" font-weight="normal" font-style="normal" fill="#0a0a0a" textLength="169.1" lengthAdjust="spacingAndGlyphs">Total Sugars 0g</text>
<text x="414.6" y="629.4" font-size="17.0" font-weight="normal" font-style="normal" fill="#0a0a0a" textLength="190.0" lengthAdjust="spacingAndGlyphs">Incl. 0g Added Sugars</text>
<circle cx="622.60" cy="628.0" r="1.55" fill="#0a0a0a"/>
<circle cx="615.24" cy="628.0" r="1.55" fill="#0a0a0a"/>
<circle cx="607.88" cy="628.0" r="1.55" fill="#0a0a0a"/>
<text x="628.4" y="629.4" font-size="20.4" font-weight="bold" font-style="normal" fill="#0a0a0a" textLength="31.8" lengthAdjust="spacingAndGlyphs" stroke="#0a0a0a" stroke-width="0.5">0%</text>
<text x="386.6" y="664.5" font-size="20.4" font-weight="bold" font-style="normal" fill="#0a0a0a" textLength="78.0" lengthAdjust="spacingAndGlyphs" stroke="#0a0a0a" stroke-width="0.5">Protein</text>
<text x="471.5" y="664.5" font-size="20.4" font-weight="normal" font-style="normal" fill="#0a0a0a" textLength="26.1" lengthAdjust="spacingAndGlyphs">0g</text>
<rect x="72.9" y="682.0" width="604.7" height="7.3" fill="#0a0a0a"/>
<text x="114.5" y="724.0" font-size="18.2" font-weight="normal" font-style="italic" fill="#0a0a0a" textLength="519.5" lengthAdjust="spacingAndGlyphs">VITAMIN D 0% • CALCIUM 2% • IRON 0% • POTASSIUM 1%</text>
<text x="78.3" y="782.9" font-size="20.6" font-weight="normal" font-style="normal" fill="#FFF9E8" textLength="594.7" lengthAdjust="spacingAndGlyphs" stroke="#FFF9E8" stroke-width="0.35">Cucumbers, fresh garlic, fresh dill, onions, green olives,</text>
<text x="146.2" y="809.1" font-size="20.6" font-weight="normal" font-style="normal" fill="#FFF9E8" textLength="463.8" lengthAdjust="spacingAndGlyphs" stroke="#FFF9E8" stroke-width="0.35">spices, filtered water, high mineral sea salt</text>
</g>
<g transform="translate(694,0)">
<rect x="42.0" y="293.5" width="666.0" height="542.0" fill="#050505"/>
<rect x="47.0" y="298.0" width="656.3" height="533.0" fill="#ffffff"/>
<rect x="47.0" y="298.0" width="656.3" height="57.0" fill="#D14A29"/>
<rect x="47.0" y="745.0" width="656.3" height="86.0" fill="#D14A29"/>
<text x="311.0" y="338.0" font-size="29.6" font-weight="bold" font-style="normal" fill="#ffffff" textLength="128.6" lengthAdjust="spacing" stroke="#ffffff" stroke-width="0.5">KIMCHI</text>
<text x="190.7" y="384.3" font-size="15.9" font-weight="normal" font-style="normal" fill="#0a0a0a" textLength="66.3" lengthAdjust="spacing">ABOUT</text>
<text x="266.0" y="384.3" font-size="15.9" font-weight="bold" font-style="normal" fill="#E4501F" textLength="126.6" lengthAdjust="spacing" stroke="#E4501F" stroke-width="0.5">16 SERVINGS</text>
<text x="402.8" y="384.3" font-size="15.9" font-weight="normal" font-style="normal" fill="#0a0a0a" textLength="157.8" lengthAdjust="spacing">PER CONTAINER</text>
<text x="79.5" y="415.9" font-size="16.2" font-weight="normal" font-style="normal" fill="#0a0a0a" textLength="109.9" lengthAdjust="spacingAndGlyphs">SERVING SIZE</text>
<text x="497.2" y="415.9" font-size="16.2" font-weight="normal" font-style="normal" fill="#0a0a0a" textLength="173.1" lengthAdjust="spacingAndGlyphs">1/8 CUP (28 GRAMS)</text>
<text x="78.8" y="452.7" font-size="32.4" font-weight="bold" font-style="normal" fill="#0a0a0a" textLength="137.8" lengthAdjust="spacingAndGlyphs" stroke="#0a0a0a" stroke-width="0.5">Calories</text>
<text x="224.3" y="453.0" font-size="17.4" font-weight="bold" font-style="normal" fill="#0a0a0a" textLength="113.7" lengthAdjust="spacingAndGlyphs" stroke="#0a0a0a" stroke-width="0.5">PER SERVING</text>
<text x="648.8" y="453.0" font-size="34.4" font-weight="bold" font-style="normal" fill="#0a0a0a" textLength="21.6" lengthAdjust="spacingAndGlyphs" stroke="#0a0a0a" stroke-width="0.5">5</text>
<rect x="72.9" y="460.2" width="604.7" height="7.4" fill="#0a0a0a"/>
<text x="79.6" y="493.5" font-size="13.7" font-weight="normal" font-style="normal" fill="#0a0a0a" textLength="125.7" lengthAdjust="spacingAndGlyphs">AMOUNT/SERVING</text>
<text x="323.0" y="493.5" font-size="13.7" font-weight="normal" font-style="normal" fill="#0a0a0a" textLength="30.2" lengthAdjust="spacingAndGlyphs">%DV</text>
<text x="386.8" y="493.3" font-size="13.7" font-weight="normal" font-style="normal" fill="#0a0a0a" textLength="125.9" lengthAdjust="spacingAndGlyphs">AMOUNT/SERVING</text>
<text x="631.0" y="493.3" font-size="13.7" font-weight="normal" font-style="normal" fill="#0a0a0a" textLength="29.8" lengthAdjust="spacingAndGlyphs">%DV</text>
<text x="79.3" y="521.5" font-size="20.4" font-weight="bold" font-style="normal" fill="#0a0a0a" textLength="127.9" lengthAdjust="spacingAndGlyphs" stroke="#0a0a0a" stroke-width="0.5">Total Fat 0g</text>
<circle cx="314.10" cy="520.1" r="1.55" fill="#0a0a0a"/>
<circle cx="306.74" cy="520.1" r="1.55" fill="#0a0a0a"/>
<circle cx="299.38" cy="520.1" r="1.55" fill="#0a0a0a"/>
<circle cx="292.02" cy="520.1" r="1.55" fill="#0a0a0a"/>
<circle cx="284.66" cy="520.1" r="1.55" fill="#0a0a0a"/>
<circle cx="277.30" cy="520.1" r="1.55" fill="#0a0a0a"/>
<circle cx="269.94" cy="520.1" r="1.55" fill="#0a0a0a"/>
<circle cx="262.58" cy="520.1" r="1.55" fill="#0a0a0a"/>
<circle cx="255.22" cy="520.1" r="1.55" fill="#0a0a0a"/>
<circle cx="247.86" cy="520.1" r="1.55" fill="#0a0a0a"/>
<circle cx="240.50" cy="520.1" r="1.55" fill="#0a0a0a"/>
<circle cx="233.14" cy="520.1" r="1.55" fill="#0a0a0a"/>
<circle cx="225.78" cy="520.1" r="1.55" fill="#0a0a0a"/>
<circle cx="218.42" cy="520.1" r="1.55" fill="#0a0a0a"/>
<circle cx="211.06" cy="520.1" r="1.55" fill="#0a0a0a"/>
<text x="319.6" y="521.5" font-size="20.4" font-weight="bold" font-style="normal" fill="#0a0a0a" textLength="31.6" lengthAdjust="spacingAndGlyphs" stroke="#0a0a0a" stroke-width="0.5">0%</text>
<text x="100.2" y="557.4" font-size="20.4" font-weight="normal" font-style="normal" fill="#0a0a0a" textLength="180.4" lengthAdjust="spacingAndGlyphs">Saturated Fat 0g</text>
<circle cx="314.10" cy="556.0" r="1.55" fill="#0a0a0a"/>
<circle cx="306.74" cy="556.0" r="1.55" fill="#0a0a0a"/>
<circle cx="299.38" cy="556.0" r="1.55" fill="#0a0a0a"/>
<circle cx="292.02" cy="556.0" r="1.55" fill="#0a0a0a"/>
<circle cx="284.66" cy="556.0" r="1.55" fill="#0a0a0a"/>
<text x="319.6" y="557.4" font-size="20.4" font-weight="bold" font-style="normal" fill="#0a0a0a" textLength="33.8" lengthAdjust="spacingAndGlyphs" stroke="#0a0a0a" stroke-width="0.5">0%</text>
<text x="100.4" y="593.4" font-size="20.4" font-weight="normal" font-style="normal" fill="#0a0a0a" textLength="132.2" lengthAdjust="spacingAndGlyphs">Trans Fat 0g</text>
<text x="79.3" y="629.0" font-size="20.4" font-weight="bold" font-style="normal" fill="#0a0a0a" textLength="126.9" lengthAdjust="spacingAndGlyphs" stroke="#0a0a0a" stroke-width="0.5">Cholesterol</text>
<text x="212.3" y="629.0" font-size="20.4" font-weight="normal" font-style="normal" fill="#0a0a0a" textLength="49.3" lengthAdjust="spacingAndGlyphs">0mg</text>
<circle cx="316.60" cy="627.6" r="1.55" fill="#0a0a0a"/>
<circle cx="309.24" cy="627.6" r="1.55" fill="#0a0a0a"/>
<circle cx="301.88" cy="627.6" r="1.55" fill="#0a0a0a"/>
<circle cx="294.52" cy="627.6" r="1.55" fill="#0a0a0a"/>
<circle cx="287.16" cy="627.6" r="1.55" fill="#0a0a0a"/>
<circle cx="279.80" cy="627.6" r="1.55" fill="#0a0a0a"/>
<circle cx="272.44" cy="627.6" r="1.55" fill="#0a0a0a"/>
<circle cx="265.08" cy="627.6" r="1.55" fill="#0a0a0a"/>
<text x="321.4" y="629.0" font-size="20.4" font-weight="bold" font-style="normal" fill="#0a0a0a" textLength="32.0" lengthAdjust="spacingAndGlyphs" stroke="#0a0a0a" stroke-width="0.5">0%</text>
<text x="79.3" y="664.5" font-size="20.4" font-weight="bold" font-style="normal" fill="#0a0a0a" textLength="83.9" lengthAdjust="spacingAndGlyphs" stroke="#0a0a0a" stroke-width="0.5">Sodium</text>
<text x="169.4" y="664.5" font-size="20.4" font-weight="normal" font-style="normal" fill="#0a0a0a" textLength="74.8" lengthAdjust="spacingAndGlyphs">225mg</text>
<circle cx="307.40" cy="663.1" r="1.55" fill="#0a0a0a"/>
<circle cx="300.04" cy="663.1" r="1.55" fill="#0a0a0a"/>
<circle cx="292.68" cy="663.1" r="1.55" fill="#0a0a0a"/>
<circle cx="285.32" cy="663.1" r="1.55" fill="#0a0a0a"/>
<circle cx="277.96" cy="663.1" r="1.55" fill="#0a0a0a"/>
<circle cx="270.60" cy="663.1" r="1.55" fill="#0a0a0a"/>
<circle cx="263.24" cy="663.1" r="1.55" fill="#0a0a0a"/>
<circle cx="255.88" cy="663.1" r="1.55" fill="#0a0a0a"/>
<circle cx="248.52" cy="663.1" r="1.55" fill="#0a0a0a"/>
<text x="310.6" y="664.5" font-size="20.4" font-weight="bold" font-style="normal" fill="#0a0a0a" textLength="40.6" lengthAdjust="spacingAndGlyphs" stroke="#0a0a0a" stroke-width="0.5">10%</text>
<text x="386.6" y="521.2" font-size="20.4" font-weight="bold" font-style="normal" fill="#0a0a0a" textLength="152.8" lengthAdjust="spacingAndGlyphs" stroke="#0a0a0a" stroke-width="0.5">Total Carb. 2g</text>
<circle cx="621.20" cy="519.8" r="1.55" fill="#0a0a0a"/>
<circle cx="613.84" cy="519.8" r="1.55" fill="#0a0a0a"/>
<circle cx="606.48" cy="519.8" r="1.55" fill="#0a0a0a"/>
<circle cx="599.12" cy="519.8" r="1.55" fill="#0a0a0a"/>
<circle cx="591.76" cy="519.8" r="1.55" fill="#0a0a0a"/>
<circle cx="584.40" cy="519.8" r="1.55" fill="#0a0a0a"/>
<circle cx="577.04" cy="519.8" r="1.55" fill="#0a0a0a"/>
<circle cx="569.68" cy="519.8" r="1.55" fill="#0a0a0a"/>
<circle cx="562.32" cy="519.8" r="1.55" fill="#0a0a0a"/>
<circle cx="554.96" cy="519.8" r="1.55" fill="#0a0a0a"/>
<circle cx="547.60" cy="519.8" r="1.55" fill="#0a0a0a"/>
<text x="625.8" y="521.2" font-size="20.4" font-weight="bold" font-style="normal" fill="#0a0a0a" textLength="38.4" lengthAdjust="spacingAndGlyphs" stroke="#0a0a0a" stroke-width="0.5">&lt;1%</text>
<text x="403.6" y="557.4" font-size="20.4" font-weight="normal" font-style="normal" fill="#0a0a0a" textLength="79.4" lengthAdjust="spacingAndGlyphs">Fiber 1g</text>
<circle cx="624.70" cy="556.0" r="1.55" fill="#0a0a0a"/>
<circle cx="617.34" cy="556.0" r="1.55" fill="#0a0a0a"/>
<circle cx="609.98" cy="556.0" r="1.55" fill="#0a0a0a"/>
<circle cx="602.62" cy="556.0" r="1.55" fill="#0a0a0a"/>
<circle cx="595.26" cy="556.0" r="1.55" fill="#0a0a0a"/>
<circle cx="587.90" cy="556.0" r="1.55" fill="#0a0a0a"/>
<circle cx="580.54" cy="556.0" r="1.55" fill="#0a0a0a"/>
<circle cx="573.18" cy="556.0" r="1.55" fill="#0a0a0a"/>
<circle cx="565.82" cy="556.0" r="1.55" fill="#0a0a0a"/>
<circle cx="558.46" cy="556.0" r="1.55" fill="#0a0a0a"/>
<circle cx="551.10" cy="556.0" r="1.55" fill="#0a0a0a"/>
<circle cx="543.74" cy="556.0" r="1.55" fill="#0a0a0a"/>
<circle cx="536.38" cy="556.0" r="1.55" fill="#0a0a0a"/>
<circle cx="529.02" cy="556.0" r="1.55" fill="#0a0a0a"/>
<circle cx="521.66" cy="556.0" r="1.55" fill="#0a0a0a"/>
<circle cx="514.30" cy="556.0" r="1.55" fill="#0a0a0a"/>
<circle cx="506.94" cy="556.0" r="1.55" fill="#0a0a0a"/>
<circle cx="499.58" cy="556.0" r="1.55" fill="#0a0a0a"/>
<circle cx="492.22" cy="556.0" r="1.55" fill="#0a0a0a"/>
<text x="629.6" y="557.4" font-size="20.4" font-weight="bold" font-style="normal" fill="#0a0a0a" textLength="35.0" lengthAdjust="spacingAndGlyphs" stroke="#0a0a0a" stroke-width="0.5">4%</text>
<text x="403.2" y="593.0" font-size="20.4" font-weight="normal" font-style="normal" fill="#0a0a0a" textLength="169.1" lengthAdjust="spacingAndGlyphs">Total Sugars 0g</text>
<text x="414.6" y="629.4" font-size="17.0" font-weight="normal" font-style="normal" fill="#0a0a0a" textLength="190.0" lengthAdjust="spacingAndGlyphs">Incl. 0g Added Sugars</text>
<circle cx="622.60" cy="628.0" r="1.55" fill="#0a0a0a"/>
<circle cx="615.24" cy="628.0" r="1.55" fill="#0a0a0a"/>
<circle cx="607.88" cy="628.0" r="1.55" fill="#0a0a0a"/>
<text x="628.4" y="629.4" font-size="20.4" font-weight="bold" font-style="normal" fill="#0a0a0a" textLength="31.8" lengthAdjust="spacingAndGlyphs" stroke="#0a0a0a" stroke-width="0.5">0%</text>
<text x="386.6" y="664.5" font-size="20.4" font-weight="bold" font-style="normal" fill="#0a0a0a" textLength="78.0" lengthAdjust="spacingAndGlyphs" stroke="#0a0a0a" stroke-width="0.5">Protein</text>
<text x="471.5" y="664.5" font-size="20.4" font-weight="normal" font-style="normal" fill="#0a0a0a" textLength="26.1" lengthAdjust="spacingAndGlyphs">0g</text>
<rect x="72.9" y="682.0" width="604.7" height="7.3" fill="#0a0a0a"/>
<text x="80.2" y="724.0" font-size="18.2" font-weight="normal" font-style="italic" fill="#0a0a0a" textLength="587.8" lengthAdjust="spacingAndGlyphs">VITAMIN D 0% • CALCIUM 12mg • IRON 0% • POTASSIUM 45 mg</text>
<text x="96.5" y="782.9" font-size="20.6" font-weight="normal" font-style="normal" fill="#FFF9E8" textLength="557.1" lengthAdjust="spacingAndGlyphs" stroke="#FFF9E8" stroke-width="0.35">Napa Cabbage, bok choy, fresh garlic, fresh ginger,</text>
<text x="215.0" y="809.1" font-size="20.6" font-weight="normal" font-style="normal" fill="#FFF9E8" textLength="320.0" lengthAdjust="spacingAndGlyphs" stroke="#FFF9E8" stroke-width="0.35">spices, sea salt, filtered water</text>
</g>
<g transform="translate(0,570.6)">
<rect x="42.0" y="293.5" width="666.0" height="542.0" fill="#050505"/>
<rect x="47.0" y="298.0" width="656.3" height="533.0" fill="#ffffff"/>
<rect x="47.0" y="298.0" width="656.3" height="57.0" fill="#9A4679"/>
<rect x="47.0" y="745.0" width="327.7" height="86.0" fill="#9A4679"/>
<rect x="374.7" y="745.0" width="328.6" height="86.0" fill="#F15B3B"/>
<text x="260.4" y="338.0" font-size="29.6" font-weight="bold" font-style="normal" fill="#ffffff" textLength="230.0" lengthAdjust="spacing" stroke="#ffffff" stroke-width="0.5">SAUERKRAUT</text>
<text x="190.7" y="384.3" font-size="15.9" font-weight="normal" font-style="normal" fill="#0a0a0a" textLength="66.3" lengthAdjust="spacing">ABOUT</text>
<text x="266.0" y="384.3" font-size="15.9" font-weight="bold" font-style="normal" fill="#E4501F" textLength="126.6" lengthAdjust="spacing" stroke="#E4501F" stroke-width="0.5">16 SERVINGS</text>
<text x="402.8" y="384.3" font-size="15.9" font-weight="normal" font-style="normal" fill="#0a0a0a" textLength="157.8" lengthAdjust="spacing">PER CONTAINER</text>
<text x="79.5" y="415.9" font-size="16.2" font-weight="normal" font-style="normal" fill="#0a0a0a" textLength="109.9" lengthAdjust="spacingAndGlyphs">SERVING SIZE</text>
<text x="496.7" y="415.9" font-size="16.2" font-weight="normal" font-style="normal" fill="#0a0a0a" textLength="173.3" lengthAdjust="spacingAndGlyphs">1/8 CUP (28 GRAMS)</text>
<text x="78.8" y="452.7" font-size="32.4" font-weight="bold" font-style="normal" fill="#0a0a0a" textLength="137.8" lengthAdjust="spacingAndGlyphs" stroke="#0a0a0a" stroke-width="0.5">Calories</text>
<text x="224.3" y="453.0" font-size="17.4" font-weight="bold" font-style="normal" fill="#0a0a0a" textLength="113.7" lengthAdjust="spacingAndGlyphs" stroke="#0a0a0a" stroke-width="0.5">PER SERVING</text>
<text x="649.6" y="453.0" font-size="34.4" font-weight="bold" font-style="normal" fill="#0a0a0a" textLength="21.4" lengthAdjust="spacingAndGlyphs" stroke="#0a0a0a" stroke-width="0.5">5</text>
<rect x="72.9" y="460.2" width="604.7" height="7.4" fill="#0a0a0a"/>
<text x="79.6" y="493.5" font-size="13.7" font-weight="normal" font-style="normal" fill="#0a0a0a" textLength="125.7" lengthAdjust="spacingAndGlyphs">AMOUNT/SERVING</text>
<text x="323.0" y="493.5" font-size="13.7" font-weight="normal" font-style="normal" fill="#0a0a0a" textLength="30.2" lengthAdjust="spacingAndGlyphs">%DV</text>
<text x="386.8" y="493.3" font-size="13.7" font-weight="normal" font-style="normal" fill="#0a0a0a" textLength="125.9" lengthAdjust="spacingAndGlyphs">AMOUNT/SERVING</text>
<text x="631.0" y="493.3" font-size="13.7" font-weight="normal" font-style="normal" fill="#0a0a0a" textLength="29.8" lengthAdjust="spacingAndGlyphs">%DV</text>
<text x="79.3" y="521.5" font-size="20.4" font-weight="bold" font-style="normal" fill="#0a0a0a" textLength="127.9" lengthAdjust="spacingAndGlyphs" stroke="#0a0a0a" stroke-width="0.5">Total Fat 0g</text>
<circle cx="314.10" cy="520.1" r="1.55" fill="#0a0a0a"/>
<circle cx="306.74" cy="520.1" r="1.55" fill="#0a0a0a"/>
<circle cx="299.38" cy="520.1" r="1.55" fill="#0a0a0a"/>
<circle cx="292.02" cy="520.1" r="1.55" fill="#0a0a0a"/>
<circle cx="284.66" cy="520.1" r="1.55" fill="#0a0a0a"/>
<circle cx="277.30" cy="520.1" r="1.55" fill="#0a0a0a"/>
<circle cx="269.94" cy="520.1" r="1.55" fill="#0a0a0a"/>
<circle cx="262.58" cy="520.1" r="1.55" fill="#0a0a0a"/>
<circle cx="255.22" cy="520.1" r="1.55" fill="#0a0a0a"/>
<circle cx="247.86" cy="520.1" r="1.55" fill="#0a0a0a"/>
<circle cx="240.50" cy="520.1" r="1.55" fill="#0a0a0a"/>
<circle cx="233.14" cy="520.1" r="1.55" fill="#0a0a0a"/>
<circle cx="225.78" cy="520.1" r="1.55" fill="#0a0a0a"/>
<circle cx="218.42" cy="520.1" r="1.55" fill="#0a0a0a"/>
<circle cx="211.06" cy="520.1" r="1.55" fill="#0a0a0a"/>
<text x="319.6" y="521.5" font-size="20.4" font-weight="bold" font-style="normal" fill="#0a0a0a" textLength="31.6" lengthAdjust="spacingAndGlyphs" stroke="#0a0a0a" stroke-width="0.5">0%</text>
<text x="100.2" y="557.4" font-size="20.4" font-weight="normal" font-style="normal" fill="#0a0a0a" textLength="180.4" lengthAdjust="spacingAndGlyphs">Saturated Fat 0g</text>
<circle cx="314.10" cy="556.0" r="1.55" fill="#0a0a0a"/>
<circle cx="306.74" cy="556.0" r="1.55" fill="#0a0a0a"/>
<circle cx="299.38" cy="556.0" r="1.55" fill="#0a0a0a"/>
<circle cx="292.02" cy="556.0" r="1.55" fill="#0a0a0a"/>
<circle cx="284.66" cy="556.0" r="1.55" fill="#0a0a0a"/>
<text x="319.6" y="557.4" font-size="20.4" font-weight="bold" font-style="normal" fill="#0a0a0a" textLength="33.8" lengthAdjust="spacingAndGlyphs" stroke="#0a0a0a" stroke-width="0.5">0%</text>
<text x="100.4" y="593.4" font-size="20.4" font-weight="normal" font-style="normal" fill="#0a0a0a" textLength="132.2" lengthAdjust="spacingAndGlyphs">Trans Fat 0g</text>
<text x="79.3" y="629.0" font-size="20.4" font-weight="bold" font-style="normal" fill="#0a0a0a" textLength="126.9" lengthAdjust="spacingAndGlyphs" stroke="#0a0a0a" stroke-width="0.5">Cholesterol</text>
<text x="212.3" y="629.0" font-size="20.4" font-weight="normal" font-style="normal" fill="#0a0a0a" textLength="49.3" lengthAdjust="spacingAndGlyphs">0mg</text>
<circle cx="316.60" cy="627.6" r="1.55" fill="#0a0a0a"/>
<circle cx="309.24" cy="627.6" r="1.55" fill="#0a0a0a"/>
<circle cx="301.88" cy="627.6" r="1.55" fill="#0a0a0a"/>
<circle cx="294.52" cy="627.6" r="1.55" fill="#0a0a0a"/>
<circle cx="287.16" cy="627.6" r="1.55" fill="#0a0a0a"/>
<circle cx="279.80" cy="627.6" r="1.55" fill="#0a0a0a"/>
<circle cx="272.44" cy="627.6" r="1.55" fill="#0a0a0a"/>
<circle cx="265.08" cy="627.6" r="1.55" fill="#0a0a0a"/>
<text x="321.4" y="629.0" font-size="20.4" font-weight="bold" font-style="normal" fill="#0a0a0a" textLength="32.0" lengthAdjust="spacingAndGlyphs" stroke="#0a0a0a" stroke-width="0.5">0%</text>
<text x="79.3" y="664.5" font-size="20.4" font-weight="bold" font-style="normal" fill="#0a0a0a" textLength="83.9" lengthAdjust="spacingAndGlyphs" stroke="#0a0a0a" stroke-width="0.5">Sodium</text>
<text x="169.4" y="664.5" font-size="20.4" font-weight="normal" font-style="normal" fill="#0a0a0a" textLength="76.0" lengthAdjust="spacingAndGlyphs">200mg</text>
<circle cx="315.20" cy="663.1" r="1.55" fill="#0a0a0a"/>
<circle cx="307.84" cy="663.1" r="1.55" fill="#0a0a0a"/>
<circle cx="300.48" cy="663.1" r="1.55" fill="#0a0a0a"/>
<circle cx="293.12" cy="663.1" r="1.55" fill="#0a0a0a"/>
<circle cx="285.76" cy="663.1" r="1.55" fill="#0a0a0a"/>
<circle cx="278.40" cy="663.1" r="1.55" fill="#0a0a0a"/>
<circle cx="271.04" cy="663.1" r="1.55" fill="#0a0a0a"/>
<circle cx="263.68" cy="663.1" r="1.55" fill="#0a0a0a"/>
<circle cx="256.32" cy="663.1" r="1.55" fill="#0a0a0a"/>
<circle cx="248.96" cy="663.1" r="1.55" fill="#0a0a0a"/>
<text x="320.2" y="664.5" font-size="20.4" font-weight="bold" font-style="normal" fill="#0a0a0a" textLength="31.6" lengthAdjust="spacingAndGlyphs" stroke="#0a0a0a" stroke-width="0.5">8%</text>
<text x="386.6" y="521.2" font-size="20.4" font-weight="bold" font-style="normal" fill="#0a0a0a" textLength="152.8" lengthAdjust="spacingAndGlyphs" stroke="#0a0a0a" stroke-width="0.5">Total Carb. 2g</text>
<circle cx="621.20" cy="519.8" r="1.55" fill="#0a0a0a"/>
<circle cx="613.84" cy="519.8" r="1.55" fill="#0a0a0a"/>
<circle cx="606.48" cy="519.8" r="1.55" fill="#0a0a0a"/>
<circle cx="599.12" cy="519.8" r="1.55" fill="#0a0a0a"/>
<circle cx="591.76" cy="519.8" r="1.55" fill="#0a0a0a"/>
<circle cx="584.40" cy="519.8" r="1.55" fill="#0a0a0a"/>
<circle cx="577.04" cy="519.8" r="1.55" fill="#0a0a0a"/>
<circle cx="569.68" cy="519.8" r="1.55" fill="#0a0a0a"/>
<circle cx="562.32" cy="519.8" r="1.55" fill="#0a0a0a"/>
<circle cx="554.96" cy="519.8" r="1.55" fill="#0a0a0a"/>
<circle cx="547.60" cy="519.8" r="1.55" fill="#0a0a0a"/>
<text x="625.8" y="521.2" font-size="20.4" font-weight="bold" font-style="normal" fill="#0a0a0a" textLength="38.4" lengthAdjust="spacingAndGlyphs" stroke="#0a0a0a" stroke-width="0.5">&lt;1%</text>
<text x="403.6" y="557.4" font-size="20.4" font-weight="normal" font-style="normal" fill="#0a0a0a" textLength="79.4" lengthAdjust="spacingAndGlyphs">Fiber 1g</text>
<circle cx="624.70" cy="556.0" r="1.55" fill="#0a0a0a"/>
<circle cx="617.34" cy="556.0" r="1.55" fill="#0a0a0a"/>
<circle cx="609.98" cy="556.0" r="1.55" fill="#0a0a0a"/>
<circle cx="602.62" cy="556.0" r="1.55" fill="#0a0a0a"/>
<circle cx="595.26" cy="556.0" r="1.55" fill="#0a0a0a"/>
<circle cx="587.90" cy="556.0" r="1.55" fill="#0a0a0a"/>
<circle cx="580.54" cy="556.0" r="1.55" fill="#0a0a0a"/>
<circle cx="573.18" cy="556.0" r="1.55" fill="#0a0a0a"/>
<circle cx="565.82" cy="556.0" r="1.55" fill="#0a0a0a"/>
<circle cx="558.46" cy="556.0" r="1.55" fill="#0a0a0a"/>
<circle cx="551.10" cy="556.0" r="1.55" fill="#0a0a0a"/>
<circle cx="543.74" cy="556.0" r="1.55" fill="#0a0a0a"/>
<circle cx="536.38" cy="556.0" r="1.55" fill="#0a0a0a"/>
<circle cx="529.02" cy="556.0" r="1.55" fill="#0a0a0a"/>
<circle cx="521.66" cy="556.0" r="1.55" fill="#0a0a0a"/>
<circle cx="514.30" cy="556.0" r="1.55" fill="#0a0a0a"/>
<circle cx="506.94" cy="556.0" r="1.55" fill="#0a0a0a"/>
<circle cx="499.58" cy="556.0" r="1.55" fill="#0a0a0a"/>
<circle cx="492.22" cy="556.0" r="1.55" fill="#0a0a0a"/>
<text x="629.6" y="557.4" font-size="20.4" font-weight="bold" font-style="normal" fill="#0a0a0a" textLength="35.0" lengthAdjust="spacingAndGlyphs" stroke="#0a0a0a" stroke-width="0.5">4%</text>
<text x="403.2" y="593.0" font-size="20.4" font-weight="normal" font-style="normal" fill="#0a0a0a" textLength="169.1" lengthAdjust="spacingAndGlyphs">Total Sugars 0g</text>
<text x="414.6" y="629.4" font-size="17.0" font-weight="normal" font-style="normal" fill="#0a0a0a" textLength="190.0" lengthAdjust="spacingAndGlyphs">Incl. 0g Added Sugars</text>
<circle cx="622.60" cy="628.0" r="1.55" fill="#0a0a0a"/>
<circle cx="615.24" cy="628.0" r="1.55" fill="#0a0a0a"/>
<circle cx="607.88" cy="628.0" r="1.55" fill="#0a0a0a"/>
<text x="628.4" y="629.4" font-size="20.4" font-weight="bold" font-style="normal" fill="#0a0a0a" textLength="31.8" lengthAdjust="spacingAndGlyphs" stroke="#0a0a0a" stroke-width="0.5">0%</text>
<text x="386.6" y="664.5" font-size="20.4" font-weight="bold" font-style="normal" fill="#0a0a0a" textLength="78.0" lengthAdjust="spacingAndGlyphs" stroke="#0a0a0a" stroke-width="0.5">Protein</text>
<text x="471.5" y="664.5" font-size="20.4" font-weight="normal" font-style="normal" fill="#0a0a0a" textLength="26.1" lengthAdjust="spacingAndGlyphs">0g</text>
<rect x="72.9" y="682.0" width="604.7" height="7.3" fill="#0a0a0a"/>
<text x="83.0" y="724.0" font-size="18.2" font-weight="normal" font-style="italic" fill="#0a0a0a" textLength="582.2" lengthAdjust="spacingAndGlyphs">VITAMIN D 0% • CALCIUM 12mg • IRON 0% • POTASSIUM 45mg</text>
<text x="152.0" y="773.8" font-size="14.6" font-weight="bold" font-style="normal" fill="#FFF9E8" textLength="115.6" lengthAdjust="spacingAndGlyphs" stroke="#FFF9E8" stroke-width="1.0">RED &amp; GINGER</text>
<text x="69.2" y="793.6" font-size="15.8" font-weight="normal" font-style="normal" fill="#FFF9E8" textLength="280.6" lengthAdjust="spacingAndGlyphs" stroke="#FFF9E8" stroke-width="0.35">Green &amp; red cabbage, fresh ginger,</text>
<text x="68.6" y="812.2" font-size="15.8" font-weight="normal" font-style="normal" fill="#FFF9E8" textLength="281.2" lengthAdjust="spacingAndGlyphs" stroke="#FFF9E8" stroke-width="0.35">high mineral sea salt, filtered water</text>
<text x="476.6" y="773.8" font-size="14.6" font-weight="bold" font-style="normal" fill="#FFF9E8" textLength="123.2" lengthAdjust="spacingAndGlyphs" stroke="#FFF9E8" stroke-width="1.0">CARROT &amp; DILL</text>
<text x="425.6" y="793.6" font-size="15.8" font-weight="normal" font-style="normal" fill="#FFF9E8" textLength="225.2" lengthAdjust="spacingAndGlyphs" stroke="#FFF9E8" stroke-width="0.35">Green cabbage, carrots, dill,</text>
<text x="397.3" y="812.2" font-size="15.8" font-weight="normal" font-style="normal" fill="#FFF9E8" textLength="281.3" lengthAdjust="spacingAndGlyphs" stroke="#FFF9E8" stroke-width="0.35">high mineral sea salt, filtered water</text>
</g>
<g transform="translate(694,570.6)">
<rect x="42.0" y="293.5" width="666.0" height="542.0" fill="#050505"/>
<rect x="47.0" y="298.0" width="656.3" height="533.0" fill="#ffffff"/>
<rect x="47.0" y="298.0" width="656.3" height="57.0" fill="#82A5D3"/>
<rect x="47.0" y="745.0" width="656.3" height="86.0" fill="#82A5D3"/>
<text x="314.2" y="338.0" font-size="29.6" font-weight="bold" font-style="normal" fill="#ffffff" textLength="120.6" lengthAdjust="spacing" stroke="#ffffff" stroke-width="0.5">OLIVES</text>
<text x="190.7" y="384.3" font-size="15.9" font-weight="normal" font-style="normal" fill="#0a0a0a" textLength="66.3" lengthAdjust="spacing">ABOUT</text>
<text x="266.0" y="384.3" font-size="15.9" font-weight="bold" font-style="normal" fill="#E4501F" textLength="126.6" lengthAdjust="spacing" stroke="#E4501F" stroke-width="0.5">16 SERVINGS</text>
<text x="402.8" y="384.3" font-size="15.9" font-weight="normal" font-style="normal" fill="#0a0a0a" textLength="157.8" lengthAdjust="spacing">PER CONTAINER</text>
<text x="79.5" y="415.9" font-size="16.2" font-weight="normal" font-style="normal" fill="#0a0a0a" textLength="109.9" lengthAdjust="spacingAndGlyphs">SERVING SIZE</text>
<text x="492.0" y="415.9" font-size="16.2" font-weight="normal" font-style="normal" fill="#0a0a0a" textLength="173.4" lengthAdjust="spacingAndGlyphs">1/8 CUP (28 GRAMS)</text>
<text x="78.8" y="452.7" font-size="32.4" font-weight="bold" font-style="normal" fill="#0a0a0a" textLength="137.8" lengthAdjust="spacingAndGlyphs" stroke="#0a0a0a" stroke-width="0.5">Calories</text>
<text x="224.3" y="453.0" font-size="17.4" font-weight="bold" font-style="normal" fill="#0a0a0a" textLength="113.7" lengthAdjust="spacingAndGlyphs" stroke="#0a0a0a" stroke-width="0.5">PER SERVING</text>
<text x="626.6" y="453.0" font-size="34.4" font-weight="bold" font-style="normal" fill="#0a0a0a" textLength="41.0" lengthAdjust="spacingAndGlyphs" stroke="#0a0a0a" stroke-width="0.5">22</text>
<rect x="72.9" y="460.2" width="604.7" height="7.4" fill="#0a0a0a"/>
<text x="79.6" y="493.5" font-size="13.7" font-weight="normal" font-style="normal" fill="#0a0a0a" textLength="125.7" lengthAdjust="spacingAndGlyphs">AMOUNT/SERVING</text>
<text x="323.0" y="493.5" font-size="13.7" font-weight="normal" font-style="normal" fill="#0a0a0a" textLength="30.2" lengthAdjust="spacingAndGlyphs">%DV</text>
<text x="386.8" y="493.3" font-size="13.7" font-weight="normal" font-style="normal" fill="#0a0a0a" textLength="125.9" lengthAdjust="spacingAndGlyphs">AMOUNT/SERVING</text>
<text x="631.0" y="493.3" font-size="13.7" font-weight="normal" font-style="normal" fill="#0a0a0a" textLength="29.8" lengthAdjust="spacingAndGlyphs">%DV</text>
<text x="79.3" y="521.5" font-size="20.4" font-weight="bold" font-style="normal" fill="#0a0a0a" textLength="127.9" lengthAdjust="spacingAndGlyphs" stroke="#0a0a0a" stroke-width="0.5">Total Fat 0g</text>
<circle cx="314.10" cy="520.1" r="1.55" fill="#0a0a0a"/>
<circle cx="306.74" cy="520.1" r="1.55" fill="#0a0a0a"/>
<circle cx="299.38" cy="520.1" r="1.55" fill="#0a0a0a"/>
<circle cx="292.02" cy="520.1" r="1.55" fill="#0a0a0a"/>
<circle cx="284.66" cy="520.1" r="1.55" fill="#0a0a0a"/>
<circle cx="277.30" cy="520.1" r="1.55" fill="#0a0a0a"/>
<circle cx="269.94" cy="520.1" r="1.55" fill="#0a0a0a"/>
<circle cx="262.58" cy="520.1" r="1.55" fill="#0a0a0a"/>
<circle cx="255.22" cy="520.1" r="1.55" fill="#0a0a0a"/>
<circle cx="247.86" cy="520.1" r="1.55" fill="#0a0a0a"/>
<circle cx="240.50" cy="520.1" r="1.55" fill="#0a0a0a"/>
<circle cx="233.14" cy="520.1" r="1.55" fill="#0a0a0a"/>
<circle cx="225.78" cy="520.1" r="1.55" fill="#0a0a0a"/>
<circle cx="218.42" cy="520.1" r="1.55" fill="#0a0a0a"/>
<circle cx="211.06" cy="520.1" r="1.55" fill="#0a0a0a"/>
<text x="319.6" y="521.5" font-size="20.4" font-weight="bold" font-style="normal" fill="#0a0a0a" textLength="31.6" lengthAdjust="spacingAndGlyphs" stroke="#0a0a0a" stroke-width="0.5">0%</text>
<text x="100.2" y="557.4" font-size="20.4" font-weight="normal" font-style="normal" fill="#0a0a0a" textLength="180.4" lengthAdjust="spacingAndGlyphs">Saturated Fat 0g</text>
<circle cx="314.10" cy="556.0" r="1.55" fill="#0a0a0a"/>
<circle cx="306.74" cy="556.0" r="1.55" fill="#0a0a0a"/>
<circle cx="299.38" cy="556.0" r="1.55" fill="#0a0a0a"/>
<circle cx="292.02" cy="556.0" r="1.55" fill="#0a0a0a"/>
<circle cx="284.66" cy="556.0" r="1.55" fill="#0a0a0a"/>
<text x="319.6" y="557.4" font-size="20.4" font-weight="bold" font-style="normal" fill="#0a0a0a" textLength="33.8" lengthAdjust="spacingAndGlyphs" stroke="#0a0a0a" stroke-width="0.5">0%</text>
<text x="100.4" y="593.4" font-size="20.4" font-weight="normal" font-style="normal" fill="#0a0a0a" textLength="132.2" lengthAdjust="spacingAndGlyphs">Trans Fat 0g</text>
<text x="79.3" y="629.0" font-size="20.4" font-weight="bold" font-style="normal" fill="#0a0a0a" textLength="126.9" lengthAdjust="spacingAndGlyphs" stroke="#0a0a0a" stroke-width="0.5">Cholesterol</text>
<text x="212.3" y="629.0" font-size="20.4" font-weight="normal" font-style="normal" fill="#0a0a0a" textLength="49.3" lengthAdjust="spacingAndGlyphs">0mg</text>
<circle cx="316.60" cy="627.6" r="1.55" fill="#0a0a0a"/>
<circle cx="309.24" cy="627.6" r="1.55" fill="#0a0a0a"/>
<circle cx="301.88" cy="627.6" r="1.55" fill="#0a0a0a"/>
<circle cx="294.52" cy="627.6" r="1.55" fill="#0a0a0a"/>
<circle cx="287.16" cy="627.6" r="1.55" fill="#0a0a0a"/>
<circle cx="279.80" cy="627.6" r="1.55" fill="#0a0a0a"/>
<circle cx="272.44" cy="627.6" r="1.55" fill="#0a0a0a"/>
<circle cx="265.08" cy="627.6" r="1.55" fill="#0a0a0a"/>
<text x="321.4" y="629.0" font-size="20.4" font-weight="bold" font-style="normal" fill="#0a0a0a" textLength="32.0" lengthAdjust="spacingAndGlyphs" stroke="#0a0a0a" stroke-width="0.5">0%</text>
<text x="79.3" y="664.5" font-size="20.4" font-weight="bold" font-style="normal" fill="#0a0a0a" textLength="83.9" lengthAdjust="spacingAndGlyphs" stroke="#0a0a0a" stroke-width="0.5">Sodium</text>
<text x="169.4" y="664.5" font-size="20.4" font-weight="normal" font-style="normal" fill="#0a0a0a" textLength="74.8" lengthAdjust="spacingAndGlyphs">220mg</text>
<circle cx="307.40" cy="663.1" r="1.55" fill="#0a0a0a"/>
<circle cx="300.04" cy="663.1" r="1.55" fill="#0a0a0a"/>
<circle cx="292.68" cy="663.1" r="1.55" fill="#0a0a0a"/>
<circle cx="285.32" cy="663.1" r="1.55" fill="#0a0a0a"/>
<circle cx="277.96" cy="663.1" r="1.55" fill="#0a0a0a"/>
<circle cx="270.60" cy="663.1" r="1.55" fill="#0a0a0a"/>
<circle cx="263.24" cy="663.1" r="1.55" fill="#0a0a0a"/>
<circle cx="255.88" cy="663.1" r="1.55" fill="#0a0a0a"/>
<circle cx="248.52" cy="663.1" r="1.55" fill="#0a0a0a"/>
<text x="310.6" y="664.5" font-size="20.4" font-weight="bold" font-style="normal" fill="#0a0a0a" textLength="40.6" lengthAdjust="spacingAndGlyphs" stroke="#0a0a0a" stroke-width="0.5">10%</text>
<text x="386.6" y="521.2" font-size="20.4" font-weight="bold" font-style="normal" fill="#0a0a0a" textLength="154.4" lengthAdjust="spacingAndGlyphs" stroke="#0a0a0a" stroke-width="0.5">Total Carb. 0g</text>
<circle cx="622.80" cy="519.8" r="1.55" fill="#0a0a0a"/>
<circle cx="615.44" cy="519.8" r="1.55" fill="#0a0a0a"/>
<circle cx="608.08" cy="519.8" r="1.55" fill="#0a0a0a"/>
<circle cx="600.72" cy="519.8" r="1.55" fill="#0a0a0a"/>
<circle cx="593.36" cy="519.8" r="1.55" fill="#0a0a0a"/>
<circle cx="586.00" cy="519.8" r="1.55" fill="#0a0a0a"/>
<circle cx="578.64" cy="519.8" r="1.55" fill="#0a0a0a"/>
<circle cx="571.28" cy="519.8" r="1.55" fill="#0a0a0a"/>
<circle cx="563.92" cy="519.8" r="1.55" fill="#0a0a0a"/>
<circle cx="556.56" cy="519.8" r="1.55" fill="#0a0a0a"/>
<circle cx="549.20" cy="519.8" r="1.55" fill="#0a0a0a"/>
<text x="628.0" y="521.2" font-size="20.4" font-weight="bold" font-style="normal" fill="#0a0a0a" textLength="32.0" lengthAdjust="spacingAndGlyphs" stroke="#0a0a0a" stroke-width="0.5">0%</text>
<text x="403.6" y="557.4" font-size="20.4" font-weight="normal" font-style="normal" fill="#0a0a0a" textLength="85.9" lengthAdjust="spacingAndGlyphs">Fiber 0g</text>
<circle cx="624.00" cy="556.0" r="1.55" fill="#0a0a0a"/>
<circle cx="616.64" cy="556.0" r="1.55" fill="#0a0a0a"/>
<circle cx="609.28" cy="556.0" r="1.55" fill="#0a0a0a"/>
<circle cx="601.92" cy="556.0" r="1.55" fill="#0a0a0a"/>
<circle cx="594.56" cy="556.0" r="1.55" fill="#0a0a0a"/>
<circle cx="587.20" cy="556.0" r="1.55" fill="#0a0a0a"/>
<circle cx="579.84" cy="556.0" r="1.55" fill="#0a0a0a"/>
<circle cx="572.48" cy="556.0" r="1.55" fill="#0a0a0a"/>
<circle cx="565.12" cy="556.0" r="1.55" fill="#0a0a0a"/>
<circle cx="557.76" cy="556.0" r="1.55" fill="#0a0a0a"/>
<circle cx="550.40" cy="556.0" r="1.55" fill="#0a0a0a"/>
<circle cx="543.04" cy="556.0" r="1.55" fill="#0a0a0a"/>
<circle cx="535.68" cy="556.0" r="1.55" fill="#0a0a0a"/>
<circle cx="528.32" cy="556.0" r="1.55" fill="#0a0a0a"/>
<circle cx="520.96" cy="556.0" r="1.55" fill="#0a0a0a"/>
<circle cx="513.60" cy="556.0" r="1.55" fill="#0a0a0a"/>
<circle cx="506.24" cy="556.0" r="1.55" fill="#0a0a0a"/>
<circle cx="498.88" cy="556.0" r="1.55" fill="#0a0a0a"/>
<text x="628.8" y="557.4" font-size="20.4" font-weight="bold" font-style="normal" fill="#0a0a0a" textLength="34.2" lengthAdjust="spacingAndGlyphs" stroke="#0a0a0a" stroke-width="0.5">0%</text>
<text x="403.2" y="593.0" font-size="20.4" font-weight="normal" font-style="normal" fill="#0a0a0a" textLength="169.1" lengthAdjust="spacingAndGlyphs">Total Sugars 0g</text>
<text x="414.6" y="629.4" font-size="17.0" font-weight="normal" font-style="normal" fill="#0a0a0a" textLength="190.0" lengthAdjust="spacingAndGlyphs">Incl. 0g Added Sugars</text>
<circle cx="622.60" cy="628.0" r="1.55" fill="#0a0a0a"/>
<circle cx="615.24" cy="628.0" r="1.55" fill="#0a0a0a"/>
<circle cx="607.88" cy="628.0" r="1.55" fill="#0a0a0a"/>
<text x="628.4" y="629.4" font-size="20.4" font-weight="bold" font-style="normal" fill="#0a0a0a" textLength="31.8" lengthAdjust="spacingAndGlyphs" stroke="#0a0a0a" stroke-width="0.5">0%</text>
<text x="386.6" y="664.5" font-size="20.4" font-weight="bold" font-style="normal" fill="#0a0a0a" textLength="78.0" lengthAdjust="spacingAndGlyphs" stroke="#0a0a0a" stroke-width="0.5">Protein</text>
<text x="471.5" y="664.5" font-size="20.4" font-weight="normal" font-style="normal" fill="#0a0a0a" textLength="26.1" lengthAdjust="spacingAndGlyphs">0g</text>
<rect x="72.9" y="682.0" width="604.7" height="7.3" fill="#0a0a0a"/>
<text x="75.6" y="724.0" font-size="18.2" font-weight="normal" font-style="italic" fill="#0a0a0a" textLength="597.6" lengthAdjust="spacingAndGlyphs">VITAMIN D 0% • CALCIUM 14mg • IRON 1mg • POTASSIUM 40mg</text>
<text x="153.0" y="782.9" font-size="20.6" font-weight="normal" font-style="normal" fill="#FFF9E8" textLength="445.0" lengthAdjust="spacingAndGlyphs" stroke="#FFF9E8" stroke-width="0.35">Mixed olives, dried thyme, dried oregano,</text>
<text x="184.2" y="809.1" font-size="20.6" font-weight="normal" font-style="normal" fill="#FFF9E8" textLength="382.4" lengthAdjust="spacingAndGlyphs" stroke="#FFF9E8" stroke-width="0.35">high mineral sea salt, filtered water</text>
</g>
</svg>
</body></html>
